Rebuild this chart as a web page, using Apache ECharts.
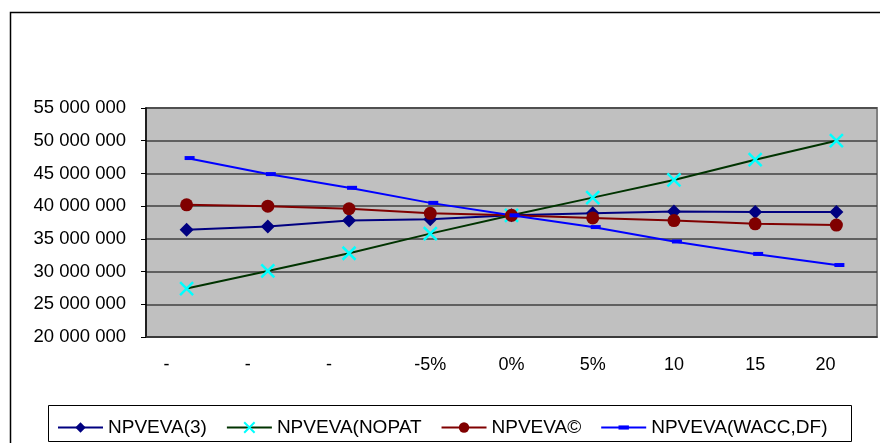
<!DOCTYPE html>
<html>
<head>
<meta charset="utf-8">
<script src="https://cdn.jsdelivr.net/npm/echarts@6/dist/echarts.min.js"></script>
<style>
  html, body { margin: 0; padding: 0; background: #fff; }
  #chart { width: 880px; height: 443px; }
</style>
</head>
<body>
<div id="chart"></div>
<script>
// ---- data ----
const categories = ['-20%', '-15%', '-10%', '-5%', '0%', '5%', '10%', '15%', '20%'];
const tickLabels = ['-', '-', '-', '-5%', '0%', '5%', '10', '15', '20'];
const seriesNames = ['NPVEVA(3)', 'NPVEVA(NOPAT', 'NPVEVA©', 'NPVEVA(WACC,DF)'];
const npveva3     = [36400000, 36900000, 37800000, 38000000, 38600000, 38900000, 39200000, 39100000, 39100000];
const npvevaNopat = [27400000, 30100000, 32800000, 35800000, 38600000, 41300000, 44000000, 47100000, 50000000];
const npvevaC     = [40200000, 40000000, 39600000, 38900000, 38600000, 38200000, 37800000, 37300000, 37100000];
const npvevaWacc  = [47350000, 44900000, 42800000, 40500000, 38600000, 36800000, 34600000, 32700000, 31000000];
const yMin = 20000000, yMax = 55000000, yStep = 5000000;

// ---- chart ----
const chart = echarts.init(document.getElementById('chart'), null, { renderer: 'canvas' });
const FONT = '"Liberation Sans", Arial, sans-serif';
const labelStyleByIndex = ['l', 'l', 'l', 'c', 'c', 'c', 'c', 'c', 'm'];

function fmt(v) {
  return String(Math.round(v)).replace(/\B(?=(\d{3})+(?!\d))/g, ' ');
}

const crossPath = 'path://M0,0L10,10M10,0L0,10';
const dashPath = 'path://M0,0M0,3L10,3L10,7L0,7Z M10,10';

const option = {
  animation: false,
  backgroundColor: '#ffffff',
  graphic: [
    { type: 'rect', shape: { x: 10.5, y: 12.5, width: 900, height: 500 },
      style: { fill: 'none', stroke: '#000', lineWidth: 1.5 }, z: -1 },
    { type: 'rect', shape: { x: 48.5, y: 405.5, width: 803, height: 36 },
      style: { fill: '#fff', stroke: '#000', lineWidth: 1 }, z: 0 }
  ],
  grid: {
    left: 146, top: 108, right: 3, bottom: 106,
    show: true, backgroundColor: '#C0C0C0', borderColor: '#808080', borderWidth: 2
  },
  legend: {
    left: 52, top: 413,
    itemWidth: 45, itemHeight: 13, itemGap: 19,
    textStyle: { fontFamily: FONT, fontSize: 19, color: '#000' },
    data: seriesNames
  },
  xAxis: {
    type: 'category',
    data: categories,
    boundaryGap: true,
    axisLine: { show: true, lineStyle: { color: '#333', width: 1.5 } },
    axisTick: { show: false },
    splitLine: { show: false },
    axisLabel: {
      margin: 19,
      interval: 0,
      color: '#000',
      fontFamily: FONT,
      fontSize: 18,
      formatter: function (v, i) { return '{' + labelStyleByIndex[i] + '|' + tickLabels[i] + '}'; },
      rich: {
        l: { fontFamily: FONT, fontSize: 18, color: '#000', padding: [0, 40, 0, 0] },
        m: { fontFamily: FONT, fontSize: 18, color: '#000', padding: [0, 22, 0, 0] },
        c: { fontFamily: FONT, fontSize: 18, color: '#000' }
      }
    }
  },
  yAxis: {
    type: 'value',
    min: yMin, max: yMax, interval: yStep,
    axisLine: { show: true, lineStyle: { color: '#000', width: 1.5 } },
    axisTick: { show: true, length: 5, lineStyle: { color: '#000' } },
    splitLine: { show: true, lineStyle: { color: '#404040', width: 1.5 } },
    axisLabel: {
      margin: 20, color: '#000', fontFamily: FONT, fontSize: 18.5,
      formatter: fmt
    }
  },
  series: [
    { name: seriesNames[0], type: 'line', data: npveva3,
      symbol: 'diamond', symbolSize: 14,
      lineStyle: { color: '#000080', width: 2 },
      itemStyle: { color: '#000080' } },
    { name: seriesNames[1], type: 'line', data: npvevaNopat,
      symbol: crossPath, symbolSize: 13,
      lineStyle: { color: '#003300', width: 2 },
      itemStyle: { color: '#00FFFF', borderColor: '#00FFFF', borderWidth: 2.5 } },
    { name: seriesNames[2], type: 'line', data: npvevaC,
      symbol: 'circle', symbolSize: 13,
      lineStyle: { color: '#800000', width: 2 },
      itemStyle: { color: '#800000' } },
    { name: seriesNames[3], type: 'line', data: npvevaWacc,
      symbol: dashPath, symbolSize: 10, symbolOffset: [3, 0],
      lineStyle: { color: '#0000FF', width: 2 },
      itemStyle: { color: '#0000FF' } }
  ]
};
chart.setOption(option);
</script>
</body>
</html>
